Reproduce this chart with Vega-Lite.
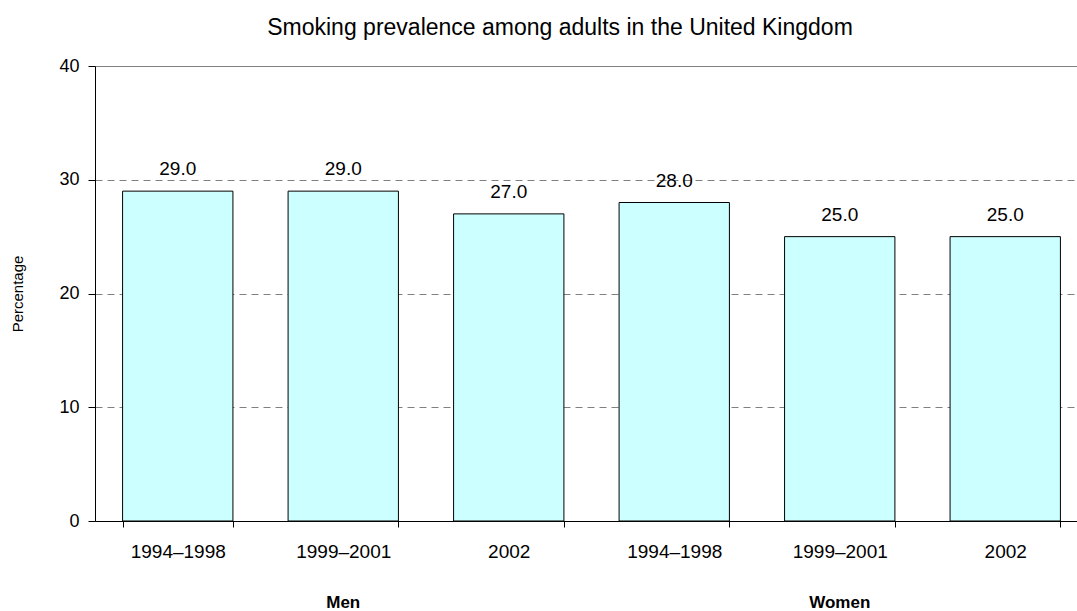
{
  "$schema": "https://vega.github.io/schema/vega-lite/v6.json",
  "autosize": {"type": "none"},
  "width": 982,
  "height": 455,
  "padding": {"left": 95, "top": 66, "right": 0, "bottom": 90},
  "background": "white",
  "title": {
    "text": "Smoking prevalence among adults in the United Kingdom",
    "font": "Liberation Sans",
    "fontSize": 23,
    "fontWeight": "normal",
    "color": "black",
    "anchor": "middle",
    "dx": -26,
    "offset": 17
  },
  "datasets": {
    "bars": [
      {"bar": "Men 1994–1998", "sex": "Men", "period": "1994–1998", "pct": 29.0},
      {"bar": "Men 1999–2001", "sex": "Men", "period": "1999–2001", "pct": 29.0},
      {"bar": "Men 2002", "sex": "Men", "period": "2002", "pct": 27.0},
      {"bar": "Women 1994–1998", "sex": "Women", "period": "1994–1998", "pct": 28.0},
      {"bar": "Women 1999–2001", "sex": "Women", "period": "1999–2001", "pct": 25.0},
      {"bar": "Women 2002", "sex": "Women", "period": "2002", "pct": 25.0}
    ],
    "groups": [
      {"bar": "Men 1999–2001", "sex": "Men"},
      {"bar": "Women 1999–2001", "sex": "Women"}
    ]
  },
  "config": {
    "view": {"stroke": null},
    "font": "Liberation Sans"
  },
  "layer": [
    {
      "data": {"name": "bars"},
      "mark": {"type": "bar", "fill": "#CCFFFF", "stroke": "black", "strokeWidth": 1},
      "encoding": {
        "x": {
          "field": "bar",
          "type": "nominal",
          "sort": null,
          "title": null,
          "scale": {"range": [0, 993], "paddingInner": 0.3333, "paddingOuter": 0.1667},
          "axis": {
            "labelExpr": "replace(datum.label, /^(Men|Women) /, '')",
            "labelAngle": 0,
            "labelFont": "Liberation Sans",
            "labelFontSize": 19,
            "labelColor": "black",
            "labelPadding": 15,
            "tickBand": "extent",
            "tickSize": 6,
            "tickColor": "black",
            "domainColor": "black",
            "grid": false
          }
        },
        "y": {
          "field": "pct",
          "type": "quantitative",
          "title": "Percentage",
          "scale": {"domain": [0, 40], "nice": false},
          "axis": {
            "values": [0, 10, 20, 30, 40],
            "labelFont": "Liberation Sans",
            "labelFontSize": 18,
            "labelColor": "black",
            "labelPadding": 9,
            "tickSize": 7,
            "tickColor": "black",
            "domainColor": "black",
            "titleFont": "Liberation Sans",
            "titleFontSize": 15,
            "titleFontWeight": "normal",
            "titleColor": "black",
            "titlePadding": 33,
            "grid": true,
            "gridColor": "#808080",
            "gridWidth": 1,
            "gridDash": {"condition": {"test": "datum.value === 40", "value": []}, "value": [7, 5]}
          }
        }
      }
    },
    {
      "data": {"name": "bars"},
      "mark": {"type": "text", "baseline": "alphabetic", "dy": -16, "fontSize": 19, "font": "Liberation Sans", "color": "black"},
      "encoding": {
        "x": {"field": "bar", "type": "nominal", "sort": null},
        "y": {"field": "pct", "type": "quantitative"},
        "text": {"field": "pct", "type": "quantitative", "format": ".1f"}
      }
    },
    {
      "data": {"name": "groups"},
      "mark": {"type": "text", "baseline": "alphabetic", "dy": 87, "fontSize": 17, "fontWeight": "bold", "letterSpacing": 2, "font": "Liberation Sans", "color": "black"},
      "encoding": {
        "x": {"field": "bar", "type": "nominal", "sort": null},
        "y": {"datum": 0, "type": "quantitative"},
        "text": {"field": "sex"}
      }
    }
  ]
}
